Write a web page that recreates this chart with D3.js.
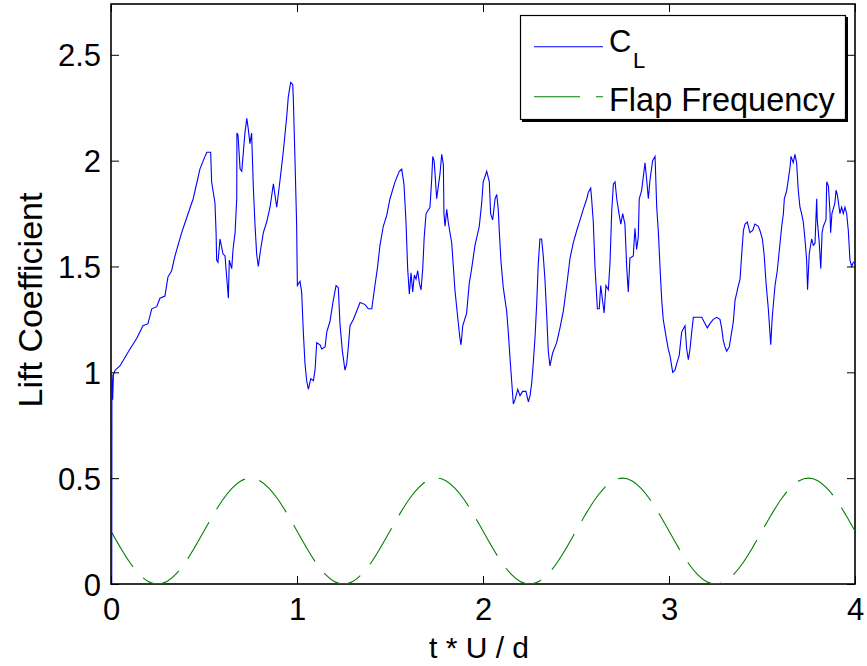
<!DOCTYPE html>
<html>
<head>
<meta charset="utf-8">
<script src="https://cdn.jsdelivr.net/npm/d3@7"></script>
<style>
  html, body { margin: 0; padding: 0; background: #fff; }
  svg { display: block; font-family: "Liberation Sans", Arial, Helvetica, sans-serif; }
</style>
</head>
<body>
<svg id="chart" width="867" height="666"></svg>
<script>
// ---------------- DATA ----------------
const xTicks = [0, 1, 2, 3, 4];
const yTicks = [0, 0.5, 1, 1.5, 2, 2.5];
const xDomain = [0, 4];
const yDomain = [0, 2.74];
const xLabel = "t * U / d";
const yLabel = "Lift Coefficient";
const legendLabels = ["C", "Flap Frequency"];
const legendSub = "L";

// Lift coefficient C_L: [t*U/d, value]
const liftCoefficient = [
[0.004,0.00],[0.005,0.99],[0.009,0.87],[0.013,0.99],[0.022,1.01],[0.048,1.03],[0.075,1.07],[0.102,1.11],[0.138,1.16],[0.172,1.22],
[0.199,1.23],[0.219,1.30],[0.246,1.31],[0.263,1.35],[0.290,1.36],[0.306,1.45],[0.326,1.48],[0.344,1.55],[0.380,1.66],[0.407,1.73],
[0.434,1.80],[0.442,1.82],[0.478,1.96],[0.496,2.00],[0.515,2.04],[0.536,2.04],[0.541,1.90],[0.559,1.80],[0.565,1.66],[0.568,1.53],
[0.575,1.52],[0.586,1.63],[0.602,1.56],[0.613,1.55],[0.631,1.35],[0.636,1.53],[0.649,1.49],[0.656,1.58],[0.667,1.66],[0.676,1.82],
[0.677,2.13],[0.683,2.12],[0.694,1.96],[0.703,1.95],[0.720,2.13],[0.730,2.20],[0.738,2.15],[0.747,2.08],[0.756,2.13],[0.765,1.88],
[0.774,1.70],[0.783,1.56],[0.792,1.50],[0.801,1.56],[0.819,1.66],[0.837,1.71],[0.855,1.78],[0.873,1.89],[0.891,1.78],[0.909,1.91],
[0.926,2.04],[0.945,2.21],[0.953,2.30],[0.966,2.37],[0.977,2.36],[0.980,2.30],[0.989,2.01],[0.998,1.70],[1.002,1.41],[1.016,1.43],
[1.025,1.38],[1.034,1.19],[1.043,1.04],[1.052,0.96],[1.061,0.92],[1.074,0.97],[1.088,0.96],[1.097,1.01],[1.106,1.14],[1.124,1.13],
[1.133,1.11],[1.151,1.12],[1.160,1.19],[1.177,1.24],[1.195,1.34],[1.210,1.41],[1.222,1.40],[1.231,1.23],[1.244,1.10],[1.258,1.01],
[1.267,1.04],[1.276,1.12],[1.285,1.22],[1.303,1.25],[1.321,1.29],[1.339,1.33],[1.366,1.32],[1.383,1.30],[1.402,1.30],[1.419,1.41],
[1.432,1.49],[1.446,1.60],[1.464,1.69],[1.482,1.74],[1.500,1.82],[1.527,1.90],[1.550,1.95],[1.563,1.96],[1.575,1.89],[1.586,1.71],
[1.595,1.49],[1.604,1.37],[1.613,1.47],[1.622,1.38],[1.631,1.46],[1.640,1.44],[1.649,1.48],[1.658,1.42],[1.667,1.39],[1.676,1.49],
[1.684,1.64],[1.694,1.75],[1.715,1.78],[1.724,1.91],[1.730,2.02],[1.737,2.00],[1.742,1.94],[1.751,1.82],[1.769,1.94],[1.778,2.03],
[1.787,1.98],[1.790,1.75],[1.796,1.69],[1.805,1.77],[1.813,1.71],[1.832,1.61],[1.849,1.39],[1.864,1.26],[1.876,1.16],[1.882,1.13],
[1.891,1.22],[1.912,1.28],[1.926,1.42],[1.939,1.49],[1.957,1.60],[1.980,1.69],[1.993,1.80],[2.001,1.90],[2.020,1.95],[2.034,1.90],
[2.041,1.75],[2.052,1.72],[2.065,1.82],[2.074,1.84],[2.082,1.77],[2.088,1.66],[2.097,1.52],[2.109,1.40],[2.127,1.29],[2.136,1.19],
[2.145,1.07],[2.154,0.96],[2.163,0.85],[2.172,0.87],[2.187,0.92],[2.199,0.89],[2.213,0.91],[2.231,0.91],[2.244,0.86],[2.253,0.89],
[2.262,0.95],[2.270,1.04],[2.280,1.17],[2.289,1.33],[2.297,1.51],[2.306,1.63],[2.315,1.63],[2.324,1.55],[2.333,1.44],[2.342,1.28],
[2.351,1.10],[2.360,1.03],[2.374,1.09],[2.396,1.14],[2.414,1.21],[2.432,1.29],[2.450,1.41],[2.468,1.54],[2.485,1.61],[2.504,1.67],
[2.522,1.72],[2.539,1.77],[2.558,1.82],[2.566,1.85],[2.579,1.87],[2.584,1.82],[2.593,1.71],[2.602,1.50],[2.615,1.30],[2.625,1.30],
[2.633,1.41],[2.644,1.33],[2.651,1.28],[2.661,1.41],[2.674,1.39],[2.683,1.52],[2.692,1.76],[2.701,1.89],[2.710,1.90],[2.719,1.82],
[2.733,1.74],[2.741,1.70],[2.751,1.75],[2.763,1.70],[2.773,1.49],[2.781,1.38],[2.790,1.54],[2.808,1.55],[2.817,1.68],[2.826,1.58],
[2.835,1.64],[2.840,1.82],[2.853,1.86],[2.871,1.99],[2.880,1.91],[2.889,1.82],[2.898,1.91],[2.912,2.00],[2.925,2.02],[2.934,1.78],
[2.943,1.66],[2.952,1.49],[2.961,1.34],[2.969,1.25],[2.984,1.17],[2.996,1.11],[3.005,1.08],[3.020,1.00],[3.032,1.01],[3.041,1.04],
[3.055,1.08],[3.068,1.19],[3.086,1.22],[3.095,1.11],[3.104,1.06],[3.113,1.11],[3.122,1.19],[3.131,1.26],[3.149,1.26],[3.176,1.26],
[3.194,1.23],[3.206,1.21],[3.220,1.23],[3.238,1.25],[3.256,1.26],[3.274,1.25],[3.283,1.21],[3.292,1.15],[3.301,1.12],[3.310,1.10],
[3.324,1.12],[3.337,1.19],[3.346,1.24],[3.355,1.34],[3.373,1.41],[3.382,1.44],[3.391,1.56],[3.400,1.67],[3.409,1.70],[3.421,1.71],
[3.435,1.66],[3.450,1.67],[3.462,1.70],[3.480,1.69],[3.489,1.67],[3.502,1.63],[3.511,1.56],[3.522,1.42],[3.534,1.30],[3.547,1.13],
[3.555,1.26],[3.570,1.41],[3.582,1.48],[3.597,1.61],[3.606,1.69],[3.615,1.75],[3.620,1.82],[3.633,1.86],[3.651,1.97],[3.656,2.02],
[3.668,1.99],[3.677,2.03],[3.686,1.99],[3.695,1.86],[3.704,1.78],[3.713,1.75],[3.722,1.71],[3.731,1.63],[3.740,1.53],[3.745,1.39],
[3.754,1.56],[3.767,1.63],[3.776,1.60],[3.785,1.61],[3.794,1.82],[3.797,1.72],[3.808,1.61],[3.816,1.49],[3.823,1.66],[3.830,1.69],
[3.844,1.72],[3.848,1.90],[3.857,1.88],[3.866,1.75],[3.869,1.66],[3.876,1.75],[3.892,1.80],[3.898,1.86],[3.905,1.84],[3.919,1.75],
[3.928,1.78],[3.937,1.75],[3.946,1.78],[3.955,1.75],[3.964,1.67],[3.973,1.53],[3.982,1.50],[3.991,1.52],[4.000,1.52]
];

// Flap frequency: [t*U/d, value]
const flapFrequency = [
[0.00,0.250],[0.05,0.173],[0.10,0.103],[0.15,0.048],[0.20,0.012],[0.25,0.000],[0.30,0.012],[0.35,0.048],[0.40,0.103],[0.45,0.173],
[0.50,0.250],[0.55,0.327],[0.60,0.397],[0.65,0.452],[0.70,0.488],[0.75,0.500],[0.80,0.488],[0.85,0.452],[0.90,0.397],[0.95,0.327],
[1.00,0.250],[1.05,0.173],[1.10,0.103],[1.15,0.048],[1.20,0.012],[1.25,0.000],[1.30,0.012],[1.35,0.048],[1.40,0.103],[1.45,0.173],
[1.50,0.250],[1.55,0.327],[1.60,0.397],[1.65,0.452],[1.70,0.488],[1.75,0.500],[1.80,0.488],[1.85,0.452],[1.90,0.397],[1.95,0.327],
[2.00,0.250],[2.05,0.173],[2.10,0.103],[2.15,0.048],[2.20,0.012],[2.25,0.000],[2.30,0.012],[2.35,0.048],[2.40,0.103],[2.45,0.173],
[2.50,0.250],[2.55,0.327],[2.60,0.397],[2.65,0.452],[2.70,0.488],[2.75,0.500],[2.80,0.488],[2.85,0.452],[2.90,0.397],[2.95,0.327],
[3.00,0.250],[3.05,0.173],[3.10,0.103],[3.15,0.048],[3.20,0.012],[3.25,0.000],[3.30,0.012],[3.35,0.048],[3.40,0.103],[3.45,0.173],
[3.50,0.250],[3.55,0.327],[3.60,0.397],[3.65,0.452],[3.70,0.488],[3.75,0.500],[3.80,0.488],[3.85,0.452],[3.90,0.397],[3.95,0.327],
[4.00,0.250]
];

// ---------------- LAYOUT ----------------
const plot = { left: 111, right: 855, top: 4, bottom: 584 };
const svg = d3.select("#chart");

const x = d3.scaleLinear().domain(xDomain).range([plot.left, plot.right]);
const y = d3.scaleLinear().domain(yDomain).range([plot.bottom, plot.top]);

const tickFont = 31;

svg.append("defs").append("clipPath").attr("id", "clip")
  .append("rect")
  .attr("x", plot.left).attr("y", plot.top)
  .attr("width", plot.right - plot.left).attr("height", plot.bottom - plot.top);

const line = d3.line().x(d => x(d[0])).y(d => y(d[1]));
const smooth = d3.line().x(d => x(d[0])).y(d => y(d[1])).curve(d3.curveMonotoneX);

// Frame (drawn first so the data lines sit on top, as in the reference)
svg.append("rect")
  .attr("x", plot.left).attr("y", plot.top)
  .attr("width", plot.right - plot.left).attr("height", plot.bottom - plot.top)
  .attr("fill", "none").attr("stroke", "#000").attr("stroke-width", 1.6);

const g = svg.append("g").attr("clip-path", "url(#clip)");
g.append("path")
  .datum(flapFrequency)
  .attr("d", smooth)
  .attr("fill", "none")
  .attr("stroke", "#008000")
  .attr("stroke-width", 1.1)
  .attr("stroke-dasharray", "42,15");

g.append("path")
  .datum(liftCoefficient)
  .attr("d", line)
  .attr("fill", "none")
  .attr("stroke", "#0000ff")
  .attr("stroke-width", 1.1)
  .attr("stroke-linejoin", "miter");

function styleAxis(sel) {
  sel.select(".domain").remove();
  sel.selectAll(".tick line").attr("stroke", "#000").attr("stroke-width", 1);
  sel.selectAll(".tick text").attr("fill", "#000").attr("font-size", tickFont)
     .attr("font-family", "'Liberation Sans', Arial, sans-serif");
}

svg.append("g")
  .attr("transform", `translate(0,${plot.bottom})`)
  .call(d3.axisBottom(x).tickValues(xTicks).tickFormat(d => String(d)).tickSizeInner(-8).tickSizeOuter(0).tickPadding(14))
  .call(styleAxis);

svg.append("g")
  .attr("transform", `translate(${plot.left},0)`)
  .call(d3.axisLeft(y).tickValues(yTicks).tickFormat(d => String(d)).tickSizeInner(-8).tickSizeOuter(0).tickPadding(10))
  .call(styleAxis)
  .selectAll(".tick text").attr("dy", "0.36em");

svg.append("g")
  .attr("transform", `translate(0,${plot.top})`)
  .call(d3.axisTop(x).tickValues(xTicks).tickFormat("").tickSizeInner(-8).tickSizeOuter(0))
  .call(styleAxis);

svg.append("g")
  .attr("transform", `translate(${plot.right},0)`)
  .call(d3.axisRight(y).tickValues(yTicks).tickFormat("").tickSizeInner(-8).tickSizeOuter(0))
  .call(styleAxis);

// Axis labels
svg.append("text")
  .attr("x", 479).attr("y", 658)
  .attr("text-anchor", "middle")
  .attr("font-size", 30)
  .attr("fill", "#000")
  .text(xLabel);

svg.append("text")
  .attr("transform", "translate(42,300) rotate(-90)")
  .attr("text-anchor", "middle")
  .attr("font-size", 34)
  .attr("fill", "#000")
  .text(yLabel);

// Legend
const leg = svg.append("g");
leg.append("rect")
  .attr("x", 520.5).attr("y", 15.5).attr("width", 325).attr("height", 104)
  .attr("fill", "#fff").attr("stroke", "#000").attr("stroke-width", 1.2);
leg.append("path")
  .attr("d", "M847,17 V121 H522")
  .attr("fill", "none").attr("stroke", "#000").attr("stroke-width", 2);

leg.append("line")
  .attr("x1", 534).attr("x2", 603).attr("y1", 46.7).attr("y2", 46.7)
  .attr("stroke", "#0000ff").attr("stroke-width", 1.1);
leg.append("line")
  .attr("x1", 534).attr("x2", 603).attr("y1", 96.7).attr("y2", 96.7)
  .attr("stroke", "#008000").attr("stroke-width", 1.1)
  .attr("stroke-dasharray", "46,16");

leg.append("text").attr("x", 609).attr("y", 52).attr("font-size", 31).attr("fill", "#000").text(legendLabels[0]);
leg.append("text").attr("x", 633).attr("y", 68).attr("font-size", 22).attr("fill", "#000").text(legendSub);
leg.append("text").attr("x", 609).attr("y", 111).attr("font-size", 32.5).attr("fill", "#000").text(legendLabels[1]);
</script>
</body>
</html>
